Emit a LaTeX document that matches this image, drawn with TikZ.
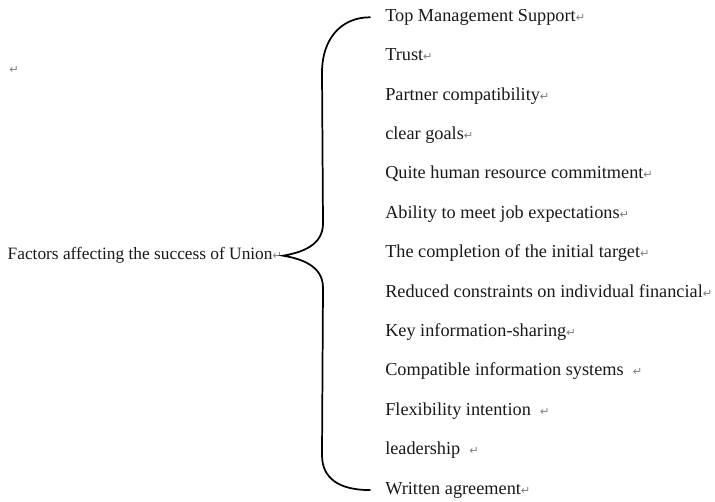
\documentclass[tikz,border=0pt]{standalone}
\usepackage{fontspec}
\setmainfont{Liberation Serif}
\newfontfamily\symfont{DejaVu Sans}
\usetikzlibrary{matrix,positioning}
\newcommand{\pmark}{{\symfont\color{gray}\fontsize{8.5}{9}\selectfont ↵}}

\begin{document}
\begin{tikzpicture}[x=0.75pt,y=-0.75pt,
    item/.style={font=\fontsize{13.7}{16}\selectfont, text=black!90},
    brace/.style={line width=1.3pt, line cap=round}]
  \useasboundingbox (0,0) rectangle (715,501);
  \node (pm) at (14,70) {\pmark};
  \matrix (M) [matrix of nodes, anchor=north west, inner sep=0pt, row sep=17.55pt,
    nodes={item, anchor=base west, inner sep=0pt, text height=9pt, text depth=3pt}]
    at (385,9) {
    Top Management Support\pmark \\
    Trust\pmark \\
    Partner compatibility\pmark \\
    clear goals\pmark \\
    Quite human resource commitment\pmark \\
    Ability to meet job expectations\pmark \\
    The completion of the initial target\pmark \\
    Reduced constraints on individual financial\pmark \\
    Key information-sharing\pmark \\
    Compatible information systems~~\pmark \\
    Flexibility intention~~\pmark \\
    leadership~~\pmark \\
    Written agreement\pmark \\
  };
  \node[item, font=\fontsize{13}{16}\selectfont, inner sep=0.5pt, yshift=-1.5pt,
    left=76.5pt of M-7-1] (F) {Factors affecting the success of Union\pmark};
  % brace
  \coordinate (tip) at (F.east);
  \coordinate (top) at ([xshift=-11.25pt]M-1-1.west);
  \coordinate (bot) at ([xshift=-11.25pt]M-13-1.west);
  \draw[brace] (top) .. controls +(-30,0) and +(0,-32) .. ([shift={(-48,55)}]top)
    -- ([shift={(40,-32)}]tip) .. controls +(0,22) and +(18,-3) .. (tip)
    .. controls +(18,3) and +(0,-22) .. ([shift={(40,32)}]tip)
    -- ([shift={(-48,-35)}]bot) .. controls +(0,24) and +(-30,0) .. (bot);
\end{tikzpicture}
\end{document}
